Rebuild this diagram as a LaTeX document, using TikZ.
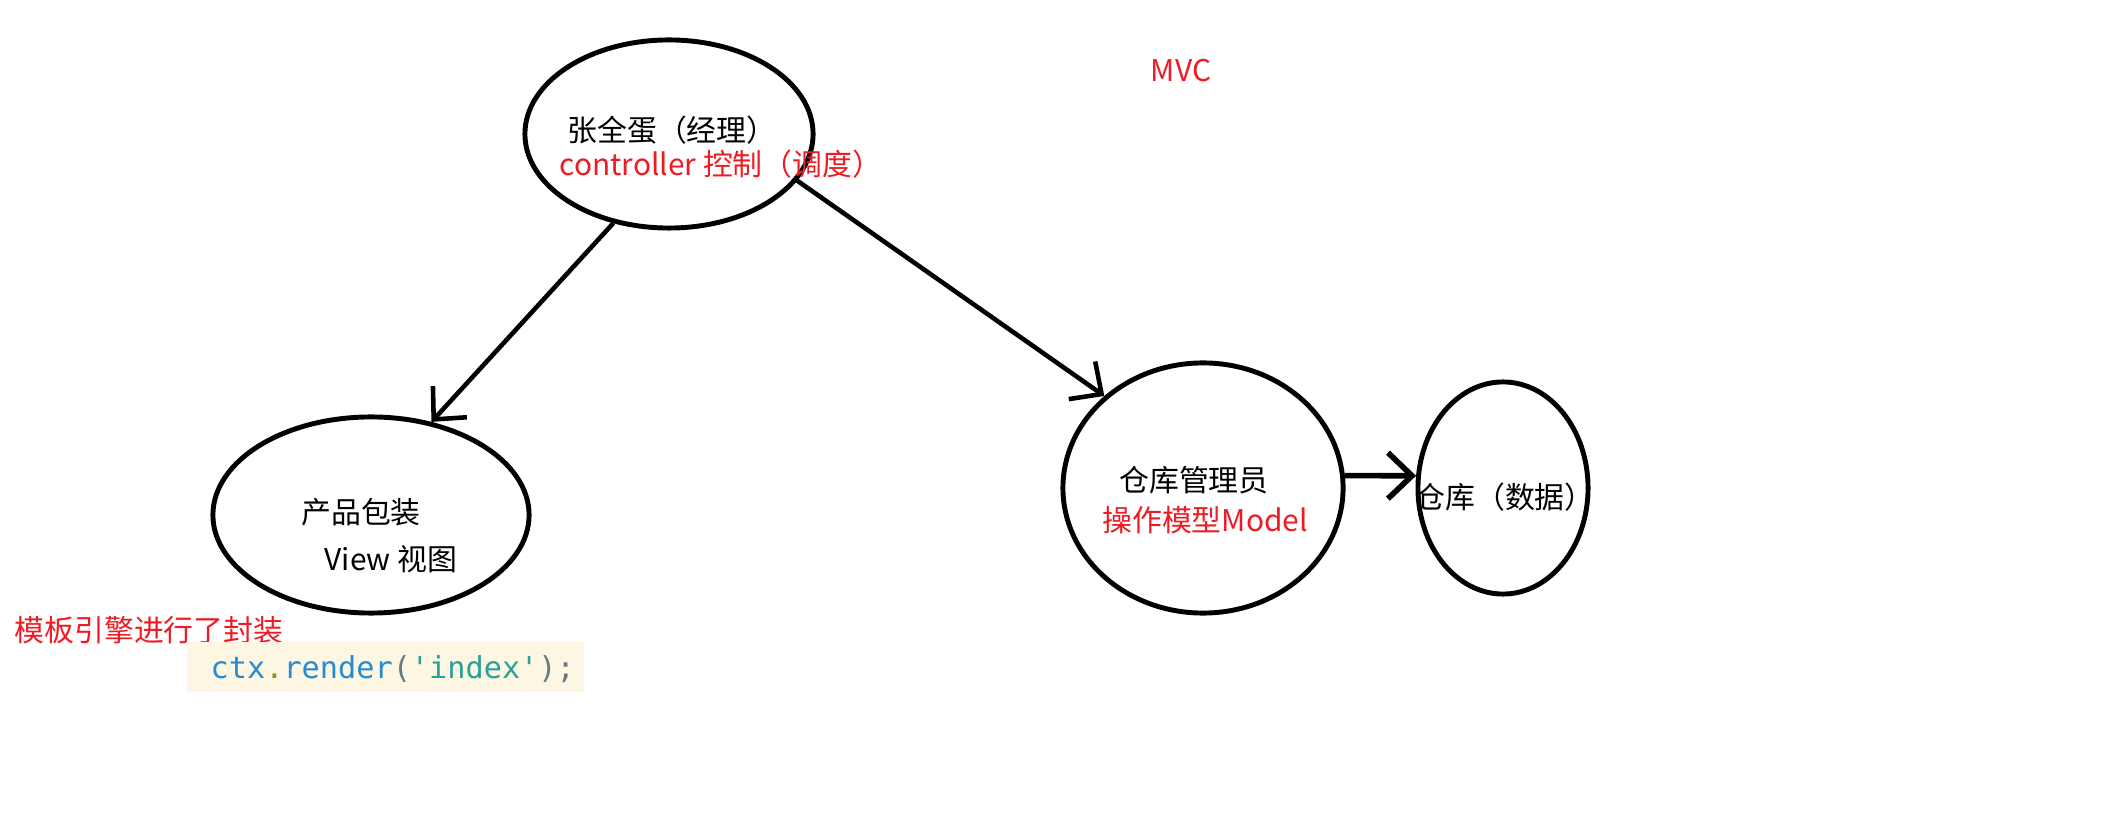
\documentclass[tikz,border=0pt]{standalone}
\usepackage{fontspec}
\setmainfont{Noto Sans CJK SC}
\setmonofont{DejaVu Sans Mono}
\usetikzlibrary{arrows.meta, shapes}
\definecolor{myred}{RGB}{237, 28, 36}
\definecolor{mybeige}{RGB}{253, 246, 227}
\definecolor{myblue}{RGB}{38, 139, 210}
\definecolor{mycyan}{RGB}{42, 161, 152}
\definecolor{mygray1}{RGB}{101, 123, 131}
\definecolor{mygreen}{RGB}{133, 153, 0}

\begin{document}
\begin{tikzpicture}[
    x = 0.01cm, y = -0.01cm,
    e0/.style = {draw, ellipse, line width = 1.4pt, inner sep = 0},
    a0/.style = {line width = 1.3pt, -{Straight Barb[length = 0.24cm, width = 0.46cm]}},
    t0/.style = {inner sep = 0, font = \fontsize{8.5}{10}\selectfont}
]

\useasboundingbox (0, 0) rectangle (2128, 816);

\node[e0, minimum width = 2.88cm, minimum height = 1.88cm] (boss) at (669, 134) {};
\node[e0, minimum width = 3.16cm, minimum height = 1.96cm] (view) at (371, 515) {};
\node[e0, minimum width = 2.80cm, minimum height = 2.50cm] (keeper) at (1203, 488) {};
\node[e0, minimum width = 1.70cm, minimum height = 2.12cm] (store) at (1503, 488) {};

\node[t0] (bossname) at (672, 130) {张全蛋（经理）};
\node[t0, myred] (bossrole) at (721, 164) {controller 控制（调度）};
\node[t0] (viewname) at (361, 512) {产品包装};
\node[t0] (viewrole) at (391, 559) {View 视图};
\node[t0] (keepername) at (1194, 480) {仓库管理员};
\node[t0, myred] (keeperrole) at (1205, 520) {操作模型Model};
\node[t0] (storename) at (1505, 497) {仓库（数据）};
\node[t0, myred] (title) at (1181, 71) {MVC};
\node[t0, myred] (note) at (149, 630) {模板引擎进行了封装};

% code snippet
\fill[mybeige] (187, 642) rectangle (584, 692);
\node[inner sep = 0, anchor = west, font = \fontsize{8.6}{10}\ttfamily] (code) at (210, 669)
    {\color{myblue}ctx\color{mygreen}.\color{myblue}render\color{mygray1}(\color{mycyan}'index'\color{mygray1});};

\draw[a0] (boss.238) -- (view.57);
\draw[a0] (boss.340) -- (keeper.137);
\draw[a0, line width = 1.6pt] (keeper.5) -- (store.172);

\end{tikzpicture}
\end{document}
